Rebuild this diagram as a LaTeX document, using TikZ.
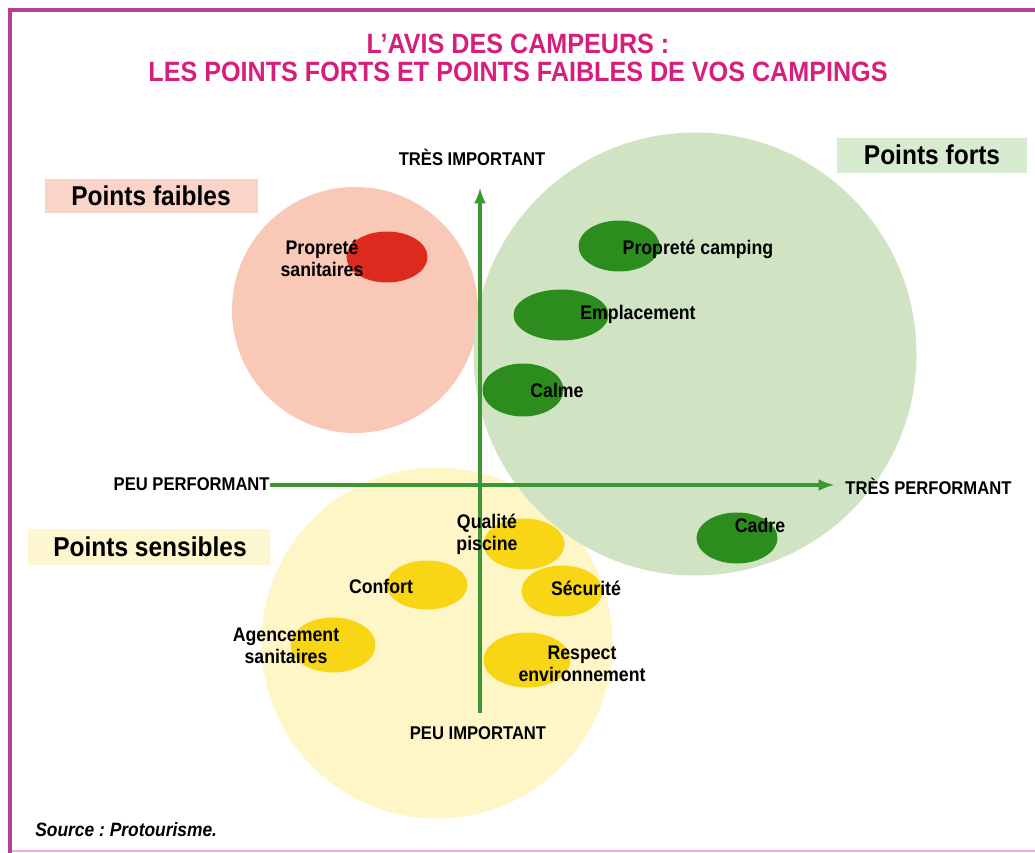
\documentclass[tikz,border=0pt]{standalone}
\usepackage{fontspec}
\setmainfont{Liberation Sans}[FakeStretch=0.9]
\usetikzlibrary{arrows,shapes.geometric}

\definecolor{titre}{RGB}{214,30,125}
\definecolor{cadre}{RGB}{175,65,155}
\definecolor{cadrepale}{RGB}{242,170,215}
\definecolor{rosefond}{RGB}{249,200,182}
\definecolor{rosebox}{RGB}{250,212,200}
\definecolor{rouge}{RGB}{222,42,30}
\definecolor{vertfond}{RGB}{208,228,196}
\definecolor{vertbox}{RGB}{214,235,208}
\definecolor{vert}{RGB}{45,140,30}
\definecolor{jaunefond}{RGB}{255,246,200}
\definecolor{jaunebox}{RGB}{254,246,206}
\definecolor{jaune}{RGB}{248,214,22}
\definecolor{axe}{RGB}{60,150,50}

\frenchspacing

\begin{document}
\begin{tikzpicture}[
        x = 0.2mm, y = -0.2mm,
        zone/.style = {
            circle, inner sep = 0pt,
        },
        bulle/.style = {
            ellipse, inner sep = 0pt,
            minimum width = 16.2mm,
            minimum height = 10.2mm,
        },
        etiquette/.style = {
            align = center, inner sep = 0pt,
            font = \fontsize{11.2}{12.5}\selectfont\bfseries,
        },
        borne/.style = {
            inner sep = 0pt,
            font = \fontsize{10.5}{12}\selectfont\bfseries,
        },
        legende/.style = {
            inner sep = 0pt,
            font = \fontsize{15.5}{17}\selectfont\bfseries,
        },
        axeligne/.style = {
            draw = axe, line width = 0.7mm, -latex,
        },
        ]

        \useasboundingbox (0,0) rectangle (1035,853);

        % Cadre
        \draw[cadrepale, line width = 0.4mm] (10,851) -- (1035,851);
        \draw[cadre, line width = 0.7mm] (1035,10) -- (10,10) -- (10,853);

        % Titre
        \node[titre, align = center, font = \fontsize{15.9}{16}\selectfont\bfseries] (titre) at (518,58)
            {L'AVIS DES CAMPEURS :\\LES POINTS FORTS ET POINTS FAIBLES DE VOS CAMPINGS};

        % Zones
        \node[zone, fill = jaunefond, minimum size = 70.2mm] (sensibles) at (437,643) {};
        \node[zone, fill = rosefond, minimum size = 49.2mm] (faibles) at (355,310) {};
        \node[zone, fill = vertfond, minimum size = 88.6mm] (forts) at (695,354) {};

        % Legendes
        \fill[rosebox] (45,179) rectangle (258,213);
        \node[legende] (lfaibles) at (151,196) {Points faibles};
        \fill[vertbox] (837,138) rectangle (1027,173);
        \node[legende] (lforts) at (932,155) {Points forts};
        \fill[jaunebox] (28,529) rectangle (270,565);
        \node[legende] (lsensibles) at (150,547) {Points sensibles};

        % Bulles
        \node[bulle, fill = rouge] (b_sanitaires) at (387,257) {};
        \node[bulle, fill = vert] (b_camping) at (619,246) {};
        \node[bulle, fill = vert, minimum width = 19mm] (b_emplacement) at (561,315) {};
        \node[bulle, fill = vert, minimum height = 10.6mm] (b_calme) at (523,390) {};
        \node[bulle, fill = vert] (b_cadre) at (737,538) {};
        \node[bulle, fill = jaune] (b_piscine) at (524,544) {};
        \node[bulle, fill = jaune, minimum height = 9.8mm] (b_confort) at (427,585) {};
        \node[bulle, fill = jaune] (b_securite) at (562,591) {};
        \node[bulle, fill = jaune, minimum width = 17mm, minimum height = 11mm] (b_agencement) at (333,645) {};
        \node[bulle, fill = jaune, minimum width = 17.4mm, minimum height = 11mm] (b_respect) at (527,660) {};

        % Axes
        \node[borne, anchor = east] (peuperf) at (270,484) {PEU PERFORMANT};
        \node[borne, anchor = west] (tresperf) at (845,486) {TRÈS PERFORMANT};
        \node[borne] (tresimp) at (472,157) {TRÈS IMPORTANT};
        \node[borne] (peuimp) at (478,733) {PEU IMPORTANT};
        \coordinate (haut) at (480,188);
        \coordinate (bas) at (480,713);
        \coordinate (droite) at (834,485);
        \draw[axeligne] (peuperf.east |- droite) -- (droite);
        \draw[axeligne] (bas) -- (haut);

        % Etiquettes
        \node[etiquette] (sanitaires) at (322,258) {Propreté\\sanitaires};
        \node[etiquette] (camping) at (698,249) {Propreté camping};
        \node[etiquette] (emplacement) at (638,314) {Emplacement};
        \node[etiquette] (calme) at (557,390) {Calme};
        \node[etiquette] (cadretxt) at (760,525) {Cadre};
        \node[etiquette] (piscine) at (487,534) {Qualité\\piscine};
        \node[etiquette] (confort) at (381,586) {Confort};
        \node[etiquette] (securite) at (586,588) {Sécurité};
        \node[etiquette] (agencement) at (286,646) {Agencement\\sanitaires};
        \node[etiquette] (respect) at (582,664) {Respect\\environnement};

        % Source
        \node[anchor = west, inner sep = 0pt, font = \fontsize{11}{12}\selectfont\bfseries\itshape] (source) at (35,830) {Source : Protourisme.};
    \end{tikzpicture}
\end{document}
